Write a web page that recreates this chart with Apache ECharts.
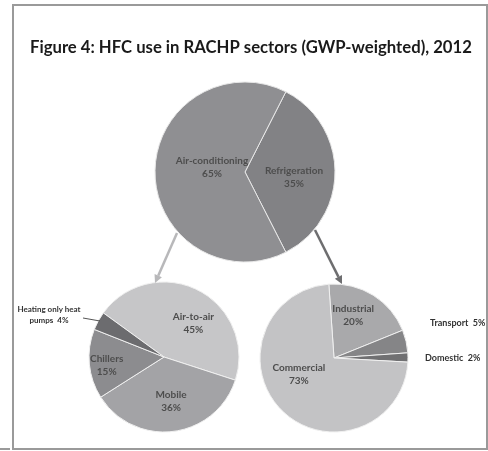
<!DOCTYPE html>
<html>
<head>
<meta charset="utf-8">
<script src="https://cdn.jsdelivr.net/npm/echarts@6/dist/echarts.min.js"></script>
<style>
html,body{margin:0;padding:0;background:#fff;}
#chart{width:488px;height:451px;}
</style>
</head>
<body>
<div id="chart"></div>
<script>
// ---- data ----
const titleText = 'Figure 4: HFC use in RACHP sectors (GWP-weighted), 2012';
const topCats = ['Refrigeration', 'Air-conditioning'];
const topVals = [35, 65];
const acCats = ['Air-to-air', 'Mobile', 'Chillers', 'Heating only heat pumps'];
const acVals = [45, 36, 15, 4];
const refCats = ['Industrial', 'Transport', 'Domestic', 'Commercial'];
const refVals = [20, 5, 2, 73];

// ---- styles ----
const topColors = ['#828285', '#8f8f92'];
const acColors = ['#c6c6c8', '#a3a3a6', '#8c8c8f', '#6c6c6f'];
const refColors = ['#a9a9ab', '#858587', '#707072', '#c3c3c5'];
const FONT = 'Lato, "Open Sans", sans-serif';

// label offsets (style only): [seriesIndex][dataIndex] -> [dx, dy]
const labelOffsets = {
  0: {0: [1, 5], 1: [15, -5]},
  1: {0: [11, 2], 1: [2, 4], 2: [-17, 4]},
  2: {0: [-2, -9], 3: [-7, -12]}
};
// absolute positions for the outside labels (style only)
const outsideLabelPos = {
  '1-3': [49, 315, 'center'],
  '2-1': [430, 323, 'left'],
  '2-2': [425, 358, 'left']
};

function mk(cats, vals, colors) {
  return cats.map((c, i) => ({name: c, value: vals[i], itemStyle: {color: colors[i]}}));
}

const insideLabel = {
  show: true,
  position: 'inside',
  fontFamily: FONT,
  fontSize: 10,
  fontWeight: 'bold',
  color: '#4d4d4d',
  lineHeight: 13,
  formatter: p => p.name + '\n' + p.value + '%'
};

function layoutFn(params) {
  const key = params.seriesIndex + '-' + params.dataIndex;
  if (outsideLabelPos[key]) {
    const o = outsideLabelPos[key];
    return {x: o[0], y: o[1], align: o[2], verticalAlign: 'middle'};
  }
  const s = labelOffsets[params.seriesIndex];
  if (s && s[params.dataIndex]) {
    return {dx: s[params.dataIndex][0], dy: s[params.dataIndex][1]};
  }
  return {};
}

const chart = echarts.init(document.getElementById('chart'), null, {renderer: 'canvas'});

function arrow(x1, y1, x2, y2, color, w) {
  const ang = Math.atan2(y2 - y1, x2 - x1);
  const L = 8, W = 4;
  const bx = x2 - L * Math.cos(ang), by = y2 - L * Math.sin(ang);
  const px = -Math.sin(ang) * W, py = Math.cos(ang) * W;
  return [
    {type: 'line', shape: {x1: x1, y1: y1, x2: bx, y2: by}, style: {stroke: color, lineWidth: w}, z: 10},
    {type: 'polygon', shape: {points: [[x2, y2], [bx + px, by + py], [bx - px, by - py]]}, style: {fill: color}, z: 10}
  ];
}

const option = {
  backgroundColor: '#fff',
  animation: false,
  title: {
    text: titleText,
    left: 25,
    top: 34,
    textStyle: {fontFamily: FONT, fontSize: 16.7, fontWeight: 'bold', color: '#1a1a1a'}
  },
  graphic: [
    {type: 'rect', shape: {x: 13, y: 5, width: 474, height: 444}, style: {fill: 'none', stroke: '#9a9a9a', lineWidth: 2}, z: -1},
    {type: 'line', shape: {x1: 0, y1: 449, x2: 10, y2: 449}, style: {stroke: '#9a9a9a', lineWidth: 2}},
    {type: 'line', shape: {x1: 83, y1: 318, x2: 100, y2: 321}, style: {stroke: '#555', lineWidth: 1}, z: 10},
    ...arrow(177, 233, 155, 283, '#b8b8ba', 2.5),
    ...arrow(315, 230, 342, 284, '#6e6e70', 2.5)
  ],
  series: [
    {
      type: 'pie',
      center: [245, 172],
      radius: 90,
      startAngle: 63,
      clockwise: true,
      itemStyle: {borderColor: '#e8e8e8', borderWidth: 1},
      label: insideLabel,
      labelLine: {show: false},
      labelLayout: layoutFn,
      emphasis: {disabled: true},
      data: mk(topCats, topVals, topColors)
    },
    {
      type: 'pie',
      center: [164, 357],
      radius: 75,
      startAngle: 144,
      clockwise: true,
      itemStyle: {borderColor: '#f0f0f0', borderWidth: 1},
      label: insideLabel,
      labelLine: {show: false},
      labelLayout: layoutFn,
      emphasis: {disabled: true},
      data: mk(acCats, acVals, acColors).map((d, i) => {
        if (i === 3) {
          d.label = {
            position: 'outside',
            overflow: 'none',
            formatter: 'Heating only heat\npumps  ' + acVals[3] + '%',
            fontFamily: FONT, fontSize: 8, fontWeight: 'bold', color: '#333', lineHeight: 11
          };
          d.labelLine = {show: false};
        }
        return d;
      })
    },
    {
      type: 'pie',
      center: [334, 358],
      radius: 74,
      startAngle: 94,
      clockwise: true,
      itemStyle: {borderColor: '#f0f0f0', borderWidth: 1},
      label: insideLabel,
      labelLine: {show: false},
      labelLayout: layoutFn,
      emphasis: {disabled: true},
      data: mk(refCats, refVals, refColors).map((d, i) => {
        if (i === 1 || i === 2) {
          d.label = {
            position: 'outside',
            overflow: 'none',
            formatter: p => p.name + '  ' + p.value + '%',
            fontFamily: FONT, fontSize: 9, fontWeight: 'bold', color: '#333'
          };
          d.labelLine = {show: false};
        }
        return d;
      })
    }
  ]
};
chart.setOption(option);
</script>
</body>
</html>
